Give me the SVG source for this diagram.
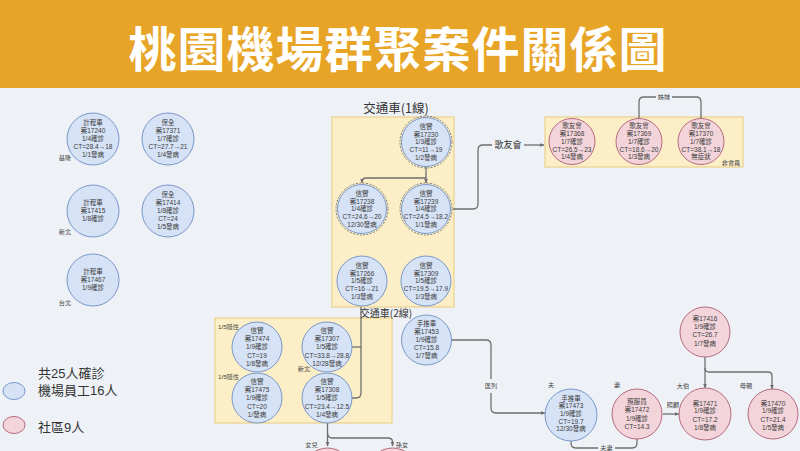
<svg xmlns="http://www.w3.org/2000/svg" width="800" height="451" viewBox="0 0 800 451">
<defs>
<style>
text{font-family:"Noto Sans CJK TC","Noto Sans CJK SC",sans-serif;}
.bg{fill:#EEF2F7;}
.hdr{fill:#E8A427;}
.title{fill:#FFFFFF;font-size:48px;font-weight:bold;text-anchor:middle;letter-spacing:1px;}
.box{fill:#FCEFC7;stroke:#EACB78;stroke-width:1;}
.blue{fill:#D6E2F5;stroke:#7A97CB;stroke-width:1;}
.pink{fill:#F2D4DA;stroke:#B66A7E;stroke-width:1;}
.dash{fill:none;stroke:#707070;stroke-width:0.9;stroke-dasharray:2 1.4;}
.n{font-family:"Liberation Sans","Noto Sans CJK TC","Noto Sans CJK SC",sans-serif;font-size:6.5px;fill:#3C3C3C;text-anchor:middle;}
.lb{font-family:"Liberation Sans","Noto Sans CJK TC","Noto Sans CJK SC",sans-serif;font-size:6.2px;fill:#444;text-anchor:middle;}
.lbl{font-family:"Liberation Sans","Noto Sans CJK TC","Noto Sans CJK SC",sans-serif;font-size:6.2px;fill:#444;text-anchor:start;}
.grp{font-size:12.5px;fill:#333;text-anchor:middle;}
.leg{font-family:"Liberation Sans","Noto Sans CJK TC","Noto Sans CJK SC",sans-serif;font-size:13px;fill:#333;}
.c{fill:none;stroke:#6E6E6E;stroke-width:1.3;stroke-linejoin:round;}
.ca{fill:none;stroke:#6E6E6E;stroke-width:1.3;marker-end:url(#ah);}
</style>
<marker id="ah" viewBox="0 0 10 10" refX="9" refY="5" markerWidth="5" markerHeight="5" orient="auto" markerUnits="userSpaceOnUse"><path d="M0,1 L10,5 L0,9 z" fill="#6E6E6E"/></marker>
</defs>

<rect class="bg" x="0" y="0" width="800" height="451"/>
<g id="header">
<rect class="hdr" x="0" y="0" width="800" height="88"/>
<text class="title" x="398" y="67">桃園機場群聚案件關係圖</text>
</g>

<g id="groups">
<rect class="box" x="332" y="117" width="122" height="190"/>
<text class="grp" x="396" y="113">交通車(1線)</text>
<rect class="box" x="545" y="117" width="198" height="50"/>
<text class="lb" x="731" y="165">非會員</text>
<rect class="box" x="215" y="318" width="177" height="105"/>
<text class="grp" x="386" y="316.5" style="font-size:10px">交通車(2線)</text>
</g>

<g id="connectors">
<path class="ca" d="M426,167 V183"/>
<path class="ca" d="M426,178 H366 Q362,178 362,182 V183"/>
<path class="c" d="M453,209 H473 Q478,209 478,204 V150 Q478,145 483,145 H492"/>
<text x="508" y="148.3" style="font-size:9px;fill:#333;text-anchor:middle">歌友會</text>
<path class="ca" d="M524,145 H544"/>
<path class="c" d="M639,118.5 V102 Q639,97 644,97 H656"/>
<text class="lb" x="664" y="99.3">姊妹</text>
<path class="c" d="M672,97 H696 Q701,97 701,102 V118.5"/>
<path class="c" d="M361,307 V393 Q361,398 356,398 H352"/>
<path class="c" d="M361,347 H352"/>
<path class="c" d="M452,340 H486 Q491,340 491,345 V379"/>
<text class="lb" x="491" y="388.3">匡列</text>
<path class="ca" d="M491,393 V408 Q491,413 496,413 H545"/>
<path class="c" d="M571,441 V443 Q571,448 576,448 H598"/>
<text class="lb" x="606.5" y="450.3">夫妻</text>
<path class="c" d="M615,448 H632 Q637,448 637,443 V439"/>
<path class="ca" d="M663,414 H679"/>
<path class="ca" d="M705,357 V388"/>
<path class="ca" d="M705,368 Q705,372 709,372 H768 Q772,372 772,376 V389"/>
<path class="ca" d="M327.5,423 V446"/>
<path class="ca" d="M327.5,433 Q327.5,438 332.5,438 H388 Q392.5,438 392.5,442 V446"/>
</g>

<g id="labels">
<text class="lb" x="65" y="160">基隆</text>
<text class="lb" x="65" y="234">新北</text>
<text class="lb" x="65" y="304.5">台北</text>
<text class="lbl" x="218" y="329">1/5隱性</text>
<text class="lbl" x="218" y="379">1/5隱性</text>
<text class="lb" x="304" y="371.3">新北</text>
<text class="lb" x="551" y="387.3">夫</text>
<text class="lb" x="617" y="387.3">妻</text>
<text class="lb" x="673" y="406.5">照顧</text>
<text class="lb" x="683" y="388.3">大伯</text>
<text class="lb" x="746" y="388.3">母親</text>
<text class="lb" x="311.5" y="446.5">女兒</text>
<text class="lb" x="402" y="446.5">孫女</text>
</g>

<g id="n17240"><circle class="blue" cx="93" cy="139" r="26"/>
<text class="n"><tspan x="93" y="125.3">計程車</tspan><tspan x="93" y="133.3">案17240</tspan><tspan x="93" y="141.3">1/4確診</tspan><tspan x="93" y="149.3">CT=28.4→18</tspan><tspan x="93" y="157.3">1/1發病</tspan></text></g>
<g id="n17371"><circle class="blue" cx="168" cy="139" r="26"/>
<text class="n"><tspan x="168" y="125.3">保全</tspan><tspan x="168" y="133.3">案17371</tspan><tspan x="168" y="141.3">1/7確診</tspan><tspan x="168" y="149.3">CT=27.7→21</tspan><tspan x="168" y="157.3">1/4發病</tspan></text></g>
<g id="n17415"><circle class="blue" cx="93" cy="211" r="26"/>
<text class="n"><tspan x="93" y="205.3">計程車</tspan><tspan x="93" y="213.3">案17415</tspan><tspan x="93" y="221.3">1/8確診</tspan></text></g>
<g id="n17414"><circle class="blue" cx="168" cy="211" r="26"/>
<text class="n"><tspan x="168" y="197.3">保全</tspan><tspan x="168" y="205.3">案17414</tspan><tspan x="168" y="213.3">1/8確診</tspan><tspan x="168" y="221.3">CT=24</tspan><tspan x="168" y="229.3">1/5發病</tspan></text></g>
<g id="n17467"><circle class="blue" cx="93" cy="280" r="26"/>
<text class="n"><tspan x="93" y="274.3">計程車</tspan><tspan x="93" y="282.3">案17467</tspan><tspan x="93" y="290.3">1/9確診</tspan></text></g>

<g id="n17230"><circle class="blue" cx="426" cy="142" r="24.5"/><circle class="dash" cx="426" cy="142" r="26"/>
<text class="n"><tspan x="426" y="129">信實</tspan><tspan x="426" y="136.7">案17230</tspan><tspan x="426" y="144.4">1/3確診</tspan><tspan x="426" y="152.1">CT=11→19</tspan><tspan x="426" y="159.8">1/2發病</tspan></text></g>
<g id="n17238"><circle class="blue" cx="362" cy="209" r="24.5"/><circle class="dash" cx="362" cy="209" r="26"/>
<text class="n"><tspan x="362" y="196">信實</tspan><tspan x="362" y="203.7">案17238</tspan><tspan x="362" y="211.4">1/4確診</tspan><tspan x="362" y="219.1">CT=24.6→20</tspan><tspan x="362" y="226.8">12/30發病</tspan></text></g>
<g id="n17239"><circle class="blue" cx="426" cy="209" r="24.5"/><circle class="dash" cx="426" cy="209" r="26"/>
<text class="n"><tspan x="426" y="196">信實</tspan><tspan x="426" y="203.7">案17239</tspan><tspan x="426" y="211.4">1/4確診</tspan><tspan x="426" y="219.1">CT=24.5→18.2</tspan><tspan x="426" y="226.8">1/1發病</tspan></text></g>
<g id="n17266"><circle class="blue" cx="362" cy="281" r="25"/>
<text class="n"><tspan x="362" y="268">信實</tspan><tspan x="362" y="275.7">案17266</tspan><tspan x="362" y="283.4">1/5確診</tspan><tspan x="362" y="291.1">CT=16→21</tspan><tspan x="362" y="298.8">1/3發病</tspan></text></g>
<g id="n17309"><circle class="blue" cx="426" cy="281" r="25"/>
<text class="n"><tspan x="426" y="268">信實</tspan><tspan x="426" y="275.7">案17309</tspan><tspan x="426" y="283.4">1/5確診</tspan><tspan x="426" y="291.1">CT=19.5→17.9</tspan><tspan x="426" y="298.8">1/3發病</tspan></text></g>

<g id="n17368"><circle class="pink" cx="572" cy="141.5" r="23"/>
<text class="n"><tspan x="572" y="128.2">歌友會</tspan><tspan x="572" y="136">案17368</tspan><tspan x="572" y="143.8">1/7確診</tspan><tspan x="572" y="151.6">CT=26.5→23</tspan><tspan x="572" y="159.4">1/4發病</tspan></text></g>
<g id="n17369"><circle class="pink" cx="639" cy="141.5" r="23"/>
<text class="n"><tspan x="639" y="128.2">歌友會</tspan><tspan x="639" y="136">案17369</tspan><tspan x="639" y="143.8">1/7確診</tspan><tspan x="639" y="151.6">CT=18.6→20</tspan><tspan x="639" y="159.4">1/3發病</tspan></text></g>
<g id="n17370"><circle class="pink" cx="701" cy="141.5" r="23"/>
<text class="n"><tspan x="701" y="128.2">歌友會</tspan><tspan x="701" y="136">案17370</tspan><tspan x="701" y="143.8">1/7確診</tspan><tspan x="701" y="151.6">CT=38.1→18</tspan><tspan x="701" y="159.4">無症狀</tspan></text></g>

<g id="n17474"><circle class="blue" cx="257" cy="347" r="25"/>
<text class="n"><tspan x="257" y="332.9">信實</tspan><tspan x="257" y="341.1">案17474</tspan><tspan x="257" y="349.3">1/9確診</tspan><tspan x="257" y="357.5">CT=19</tspan><tspan x="257" y="365.7">1/8發病</tspan></text></g>
<g id="n17475"><circle class="blue" cx="257" cy="398" r="25"/>
<text class="n"><tspan x="257" y="383.9">信實</tspan><tspan x="257" y="392.1">案17475</tspan><tspan x="257" y="400.3">1/9確診</tspan><tspan x="257" y="408.5">CT=20</tspan><tspan x="257" y="416.7">1/發病</tspan></text></g>
<g id="n17307"><circle class="blue" cx="327" cy="347" r="25"/>
<text class="n"><tspan x="327" y="332.9">信實</tspan><tspan x="327" y="341.1">案17307</tspan><tspan x="327" y="349.3">1/5確診</tspan><tspan x="327" y="357.5">CT=33.8→28.8</tspan><tspan x="327" y="365.7">12/28發病</tspan></text></g>
<g id="n17308"><circle class="blue" cx="327" cy="398" r="25"/>
<text class="n"><tspan x="327" y="383.9">信實</tspan><tspan x="327" y="392.1">案17308</tspan><tspan x="327" y="400.3">1/5確診</tspan><tspan x="327" y="408.5">CT=23.4→12.5</tspan><tspan x="327" y="416.7">1/4發病</tspan></text></g>

<g id="n17453"><circle class="blue" cx="426.5" cy="340" r="25"/>
<text class="n"><tspan x="426.5" y="325.8">手推車</tspan><tspan x="426.5" y="333.9">案17453</tspan><tspan x="426.5" y="342">1/9確診</tspan><tspan x="426.5" y="350.1">CT=15.8</tspan><tspan x="426.5" y="358.2">1/7發病</tspan></text></g>
<g id="n17473"><circle class="blue" cx="571" cy="415" r="26"/>
<text class="n"><tspan x="571" y="400.5">手推車</tspan><tspan x="571" y="408.2">案17473</tspan><tspan x="571" y="415.9">1/9確診</tspan><tspan x="571" y="423.6">CT=19.7</tspan><tspan x="571" y="431.3">12/30發病</tspan></text></g>
<g id="n17472"><circle class="pink" cx="637" cy="414" r="25"/>
<text class="n"><tspan x="637" y="403.7">照服員</tspan><tspan x="637" y="412.1">案17472</tspan><tspan x="637" y="420.5">1/9確診</tspan><tspan x="637" y="428.9">CT=14.3</tspan></text></g>
<g id="n17416"><circle class="pink" cx="705" cy="332" r="25"/>
<text class="n"><tspan x="705" y="321.1">案17416</tspan><tspan x="705" y="329.2">1/9確診</tspan><tspan x="705" y="337.4">CT=26.7</tspan><tspan x="705" y="345.5">1/7發病</tspan></text></g>
<g id="n17471"><circle class="pink" cx="705" cy="414" r="26"/>
<text class="n"><tspan x="705" y="405.6">案17471</tspan><tspan x="705" y="413.4">1/9確診</tspan><tspan x="705" y="421.6">CT=17.2</tspan><tspan x="705" y="430">1/8發病</tspan></text></g>
<g id="n17470"><circle class="pink" cx="773" cy="414" r="25"/>
<text class="n"><tspan x="773" y="405.6">案17470</tspan><tspan x="773" y="413.4">1/9確診</tspan><tspan x="773" y="421.6">CT=21.4</tspan><tspan x="773" y="430">1/5發病</tspan></text></g>
<g id="n-daughter"><circle class="pink" cx="327.5" cy="473" r="25"/></g>
<g id="n-granddaughter"><circle class="pink" cx="392.5" cy="473" r="25"/></g>

<g id="legend">
<text class="leg" x="38" y="377.5">共25人確診</text>
<ellipse class="blue" cx="14" cy="391" rx="11" ry="8.5"/>
<text class="leg" x="38" y="394.5">機場員工16人</text>
<ellipse class="pink" cx="14" cy="425" rx="11" ry="8.5"/>
<text class="leg" x="38" y="431.5">社區9人</text>
</g>
</svg>
